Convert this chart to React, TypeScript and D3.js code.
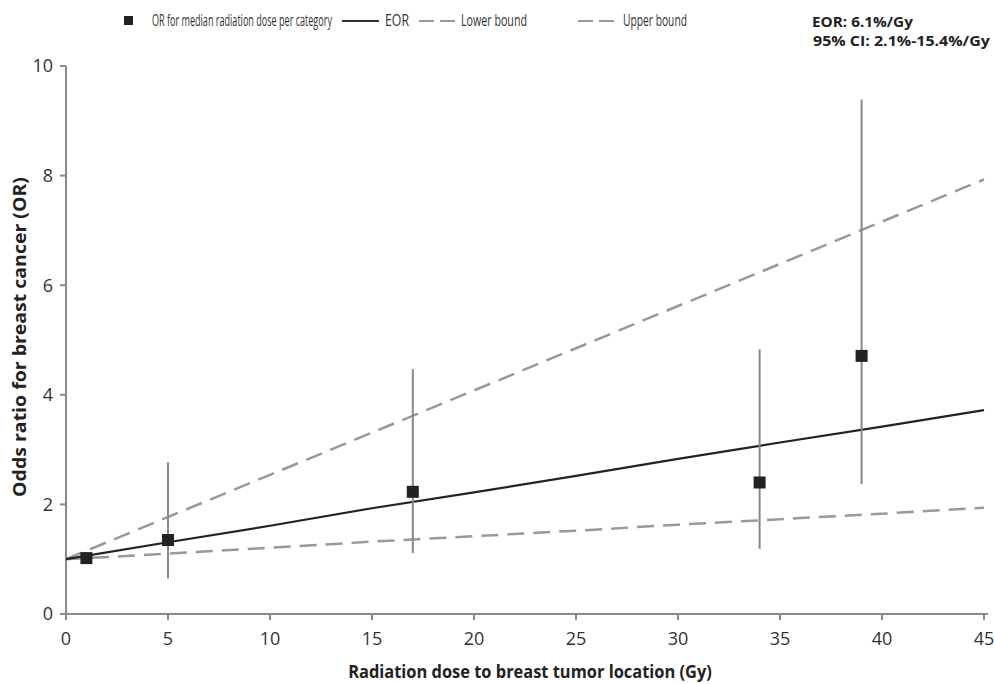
import React, { useLayoutEffect, useRef, useState } from "react";
import * as d3 from "d3";

const doses = [1, 5, 17, 34, 39];
const orValues = [1.02, 1.35, 2.23, 2.4, 4.71];
const ciLow = [NaN, 0.65, 1.11, 1.19, 2.37];
const ciHigh = [NaN, 2.77, 4.47, 4.83, 9.39];

const lineDoses = [0, 5, 10, 15, 20, 25, 30, 35, 40, 45];
const eorLine = [1.0, 1.31, 1.61, 1.93, 2.22, 2.52, 2.83, 3.13, 3.42, 3.72];
const lowerLine = [1.0, 1.1, 1.21, 1.32, 1.42, 1.52, 1.63, 1.73, 1.83, 1.94];
const upperLine = [1.0, 1.77, 2.54, 3.31, 4.08, 4.85, 5.62, 6.39, 7.16, 7.93];

const xTicks = [0, 5, 10, 15, 20, 25, 30, 35, 40, 45];
const yTicks = [0, 2, 4, 6, 8, 10];

const legendLabels = ["OR for median radiation dose per category", "EOR", "Lower bound", "Upper bound"];
const annotationLines = ["EOR: 6.1%/Gy", "95% CI: 2.1%-15.4%/Gy"];
const xTitle = "Radiation dose to breast tumor location (Gy)";
const yTitle = "Odds ratio for breast cancer (OR)";

const FONT = "'Open Sans', 'DejaVu Sans', sans-serif";

type FitProps = {
  x: number;
  y: number;
  width: number;
  anchor?: "start" | "middle";
  rotate?: number;
  children: string;
  [k: string]: any;
};

function FitText({ x, y, width, anchor = "start", rotate = 0, children, ...rest }: FitProps) {
  const ref = useRef<SVGTextElement>(null);
  const [sx, setSx] = useState(1);
  useLayoutEffect(() => {
    if (ref.current) {
      const w = ref.current.getComputedTextLength();
      if (w > 0) setSx(width / w);
    }
  }, [children, width]);
  return (
    <text
      ref={ref}
      transform={`translate(${x},${y}) rotate(${rotate}) scale(${sx},1)`}
      textAnchor={anchor}
      {...rest}
    >
      {children}
    </text>
  );
}

export default function App() {
  const W = 994, H = 684;
  const x = d3.scaleLinear().domain([0, 45]).range([66, 984]);
  const y = d3.scaleLinear().domain([0, 10]).range([614, 66]);
  const line = d3
    .line<number>()
    .x((_, i) => x(lineDoses[i]))
    .y((d) => y(d));

  const axisColor = "#8a8a8a";
  const dashColor = "#999999";

  return (
    <svg
      width={W}
      height={H}
      style={{ position: "absolute", left: 0, top: 0, background: "#fff" }}
      fontFamily={FONT}
    >
      {/* axes */}
      <line x1={x(0)} x2={x(0)} y1={y(10)} y2={y(0)} stroke={axisColor} strokeWidth={2} />
      <line x1={x(0)} x2={x(45) + 4} y1={y(0)} y2={y(0)} stroke={axisColor} strokeWidth={2} />
      {yTicks.map((t) => (
        <g key={"y" + t}>
          <line x1={x(0) - 6} x2={x(0)} y1={y(t)} y2={y(t)} stroke={axisColor} strokeWidth={2} />
          <text x={53} y={y(t)} dy="0.35em" textAnchor="end" fontSize={18} fill="#333">
            {t}
          </text>
        </g>
      ))}
      {xTicks.map((t) => (
        <g key={"x" + t}>
          <line x1={x(t)} x2={x(t)} y1={y(0)} y2={y(0) + 6} stroke={axisColor} strokeWidth={2} />
          <text x={x(t)} y={645} textAnchor="middle" fontSize={18} fill="#333">
            {t}
          </text>
        </g>
      ))}

      {/* axis titles */}
      <FitText x={530} y={678} width={364} anchor="middle" fontSize={18} fontWeight="bold" fill="#222">
        {xTitle}
      </FitText>
      <FitText x={26} y={337} width={320} anchor="middle" rotate={-90} fontSize={18} fontWeight="bold" fill="#222">
        {yTitle}
      </FitText>

      {/* lines */}
      <path d={line(upperLine) || ""} fill="none" stroke={dashColor} strokeWidth={2.5} strokeDasharray="17,9" />
      <path d={line(lowerLine) || ""} fill="none" stroke={dashColor} strokeWidth={2.5} strokeDasharray="17,9" />
      <path d={line(eorLine) || ""} fill="none" stroke="#222" strokeWidth={2.2} />

      {/* error bars */}
      {doses.map((d, i) =>
        isNaN(ciLow[i]) ? null : (
          <line
            key={"e" + i}
            x1={x(d)}
            x2={x(d)}
            y1={y(ciLow[i])}
            y2={y(ciHigh[i])}
            stroke="#888"
            strokeWidth={2}
          />
        )
      )}
      {/* points */}
      {doses.map((d, i) => (
        <rect key={"p" + i} x={x(d) - 6} y={y(orValues[i]) - 6} width={12} height={12} fill="#222" />
      ))}

      {/* legend */}
      <rect x={124} y={16} width={9} height={9} fill="#222" />
      <FitText x={152} y={26} width={180} fontSize={16} fill="#333">
        {legendLabels[0]}
      </FitText>
      <line x1={342} x2={379} y1={21} y2={21} stroke="#333" strokeWidth={2} />
      <FitText x={385} y={26} width={24} fontSize={16} fill="#333">
        {legendLabels[1]}
      </FitText>
      <line x1={419} x2={456} y1={21} y2={21} stroke={dashColor} strokeWidth={2} strokeDasharray="15,6" />
      <FitText x={461} y={26} width={66} fontSize={16} fill="#333">
        {legendLabels[2]}
      </FitText>
      <line x1={578} x2={615} y1={21} y2={21} stroke={dashColor} strokeWidth={2} strokeDasharray="15,6" />
      <FitText x={623} y={26} width={64} fontSize={16} fill="#333">
        {legendLabels[3]}
      </FitText>
      <FitText x={812} y={27} width={101} fontSize={15} fontWeight="bold" fill="#222">
        {annotationLines[0]}
      </FitText>
      <FitText x={813} y={46} width={177} fontSize={15} fontWeight="bold" fill="#222">
        {annotationLines[1]}
      </FitText>
    </svg>
  );
}
